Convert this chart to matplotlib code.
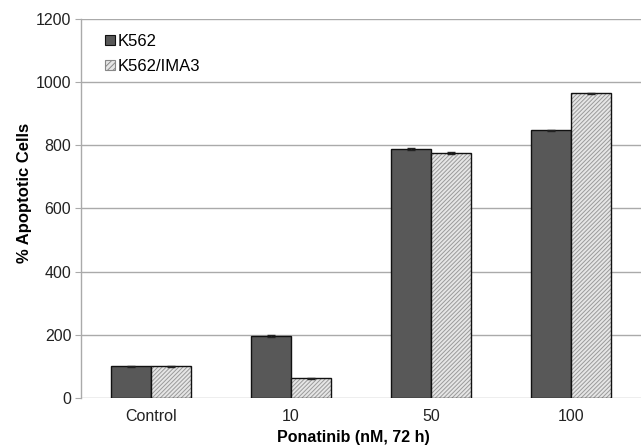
import matplotlib
matplotlib.use("Agg")
import matplotlib.pyplot as plt
from matplotlib.patches import Patch
import numpy as np

plt.rcParams['font.family'] = ['Liberation Sans', 'DejaVu Sans']
plt.rcParams['hatch.linewidth'] = 0.7

categories = ["Control", "10", "50", "100"]
k562 = [100, 195, 788, 847]
k562_ima3 = [100, 62, 775, 965]
k562_err = [2, 3, 3, 2]
ima3_err = [2, 2, 3, 2]
yticks = [0, 200, 400, 600, 800, 1000, 1200]

fig = plt.figure(figsize=(6.43, 4.48), dpi=100)
ax = fig.add_axes([0.126, 0.1116, 0.871, 0.846])

x = np.arange(len(categories))
w = 0.286
ekw = dict(ecolor='#222222', elinewidth=0.8, capsize=3)
ax.bar(x - w/2, k562, w, yerr=k562_err, color='#585858', edgecolor='#111111',
       linewidth=1.0, error_kw=ekw, zorder=3)
# hatched fill (light grey lines) then black outline
ax.bar(x + w/2, k562_ima3, w, color='#e6e6e6', edgecolor='#9a9a9a',
       linewidth=0, hatch='////////', zorder=3)
ax.bar(x + w/2, k562_ima3, w, yerr=ima3_err, fill=False, edgecolor='#111111',
       linewidth=1.0, error_kw=ekw, zorder=4)

ax.set_xlim(-0.5, len(categories) - 0.5)
ax.set_ylim(0, 1200)
ax.set_yticks(yticks)
ax.set_xticks(x)
ax.set_xticklabels(categories)
ax.yaxis.grid(True, color='#aaaaaa', linewidth=1.0, zorder=0)
ax.set_axisbelow(True)
for s in ['top', 'right', 'bottom']:
    ax.spines[s].set_visible(False)
ax.spines['left'].set_color('#aaaaaa')
ax.spines['left'].set_linewidth(1.0)
ax.tick_params(axis='y', length=4, color='#aaaaaa', labelsize=11.5, pad=3, labelcolor='#222222')
ax.tick_params(axis='x', length=0, labelsize=11.5, pad=8, labelcolor='#222222')
ax.set_ylabel('% Apoptotic Cells', fontsize=12, fontweight='bold')
ax.yaxis.set_label_coords(-0.088, 0.54)
ax.set_xlabel('Ponatinib (nM, 72 h)', fontsize=11.5, fontweight='bold')
ax.xaxis.set_label_coords(0.487, -0.085)

handles = [Patch(facecolor='#585858', edgecolor='#111111', linewidth=0.8),
           Patch(facecolor='#e6e6e6', edgecolor='#888888', hatch='//////', linewidth=0.8)]
ax.legend(handles, ['K562', 'K562/IMA3'], loc='upper left', bbox_to_anchor=(0.016, 1.0),
          frameon=False, fontsize=12, handlelength=0.6, handleheight=0.6,
          handletextpad=0.15, labelspacing=0.6)

fig.savefig('out.png', dpi=100)
